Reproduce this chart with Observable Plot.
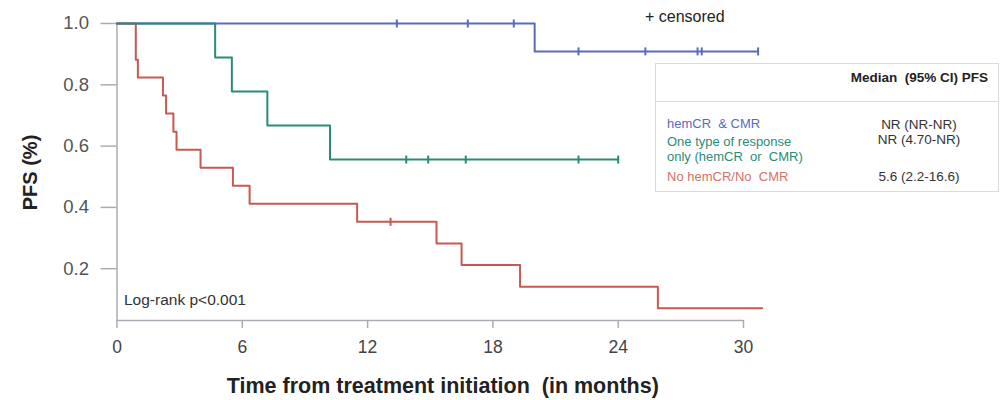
<!DOCTYPE html>
<html>
<head>
<meta charset="utf-8">
<script src="https://cdn.jsdelivr.net/npm/d3@7"></script>
<script src="https://cdn.jsdelivr.net/npm/@observablehq/plot@0.6"></script>
<style>
  body { margin: 0; background: #fff; font-family: "Liberation Sans", Arial, sans-serif; }
  #wrap { position: relative; width: 1003px; height: 400px; }
  #legend { position: absolute; left: 655px; top: 63px; width: 344px; height: 129px;
    border: 1px solid #dcdcdc; box-sizing: border-box; font-size: 13px; background: #fff; }
  #legend .hdr { position: absolute; left: 0; right: 0; top: 0; height: 37px; border-bottom: 1px solid #dcdcdc; }
  #legend .hdr span { position: absolute; right: 10px; top: 6px; font-weight: bold; color: #222; font-size: 13.5px; }
  #legend .lab { position: absolute; left: 11px; line-height: 15px; }
  #legend .val { position: absolute; left: 208px; width: 110px; text-align: center; color: #333; line-height: 15px; font-size: 13.5px; }
  #cens { position: absolute; left: 645px; top: 8px; font-size: 16px; color: #222; }
</style>
</head>
<body>
<div id="wrap">
  <div id="chart"></div>
  <div id="cens">+ censored</div>
  <div id="legend"></div>
</div>
<script>
// ---- data ----
const groups = ["hemCR & CMR", "One type of response only (hemCR or CMR)", "No hemCR/No CMR"];
const legendLabels = [["hemCR  & CMR"], ["One type of response", "only (hemCR  or  CMR)"], ["No hemCR/No  CMR"]];
const medians = ["NR (NR-NR)", "NR (4.70-NR)", "5.6 (2.2-16.6)"];
const colors = ["#5a6abd", "#2b8b78", "#c65a52"];
const labelColors = ["#5a6abd", "#2b8b78", "#d0726c"];

const blueT = [0, 20.0, 30.7];
const blueS = [1, 0.909, 0.909];
const blueCensT = [13.4, 16.8, 19.0, 22.1, 25.3, 27.8, 28.0, 30.7];
const blueCensS = [1, 1, 1, 0.909, 0.909, 0.909, 0.909, 0.909];

const tealT = [0, 4.7, 5.5, 7.2, 10.2, 24.0];
const tealS = [1, 0.889, 0.778, 0.667, 0.556, 0.556];
const tealCensT = [13.85, 14.9, 16.7, 22.1, 24.0];
const tealCensS = [0.556, 0.556, 0.556, 0.556, 0.556];

const redT = [0, 0.9, 1.0, 2.2, 2.35, 2.7, 2.85, 4.0, 5.55, 6.35, 11.5, 15.3, 16.5, 19.3, 25.9, 30.9];
const redS = [1, 0.882, 0.824, 0.765, 0.706, 0.647, 0.588, 0.529, 0.471, 0.412, 0.353, 0.282, 0.212, 0.141, 0.0706, 0.0706];
const redCensT = [13.1];
const redCensS = [0.353];

const xTicks = [0, 6, 12, 18, 24, 30];
const yTicks = [0.2, 0.4, 0.6, 0.8, 1.0];
const yMin = 0.031;

const toRows = (T, S, g) => T.map((t, i) => ({t, s: S[i], g}));
const blue = toRows(blueT, blueS, 0);
const teal = toRows(tealT, tealS, 1);
const red = toRows(redT, redS, 2);
const cens = [...toRows(blueCensT, blueCensS, 0), ...toRows(tealCensT, tealCensS, 1), ...toRows(redCensT, redCensS, 2)];

const vtick = { draw(ctx) { ctx.moveTo(0, -4); ctx.lineTo(0, 4); } };
const axisGray = "#a9adb3";

const chart = Plot.plot({
  width: 1003,
  height: 400,
  marginLeft: 116.5,
  marginRight: 260,
  marginTop: 23,
  marginBottom: 80,
  style: { fontFamily: "'Liberation Sans', Arial, sans-serif", background: "#fff", overflow: "visible" },
  x: { domain: [0, 30] },
  y: { domain: [yMin, 1] },
  marks: [
    Plot.ruleY([yMin], { x1: 0, x2: 30, stroke: axisGray, strokeWidth: 1.5 }),
    Plot.ruleX([0], { y1: yMin, y2: 1, stroke: axisGray, strokeWidth: 1.5 }),
    Plot.axisY({ ticks: yTicks, tickFormat: d3.format(".1f"), tickSize: 16, tickPadding: 12,
      stroke: axisGray, strokeWidth: 1.5, fill: "#555", fontSize: 18.5, label: null }),
    Plot.axisX({ ticks: xTicks, tickSize: 8, tickPadding: 12, stroke: axisGray, strokeWidth: 1.5,
      fill: "#444", fontSize: 17.5, label: null }),
    Plot.line(blue, { x: "t", y: "s", curve: "step-after", stroke: colors[0], strokeWidth: 2 }),
    Plot.line(red, { x: "t", y: "s", curve: "step-after", stroke: colors[2], strokeWidth: 2 }),
    Plot.line(teal, { x: "t", y: "s", curve: "step-after", stroke: colors[1], strokeWidth: 2 }),
    Plot.dot(cens, { x: "t", y: "s", symbol: vtick, r: 4, fill: "none", stroke: d => colors[d.g], strokeWidth: 2 }),
    Plot.text(["Log-rank p<0.001"], { x: 0, y: yMin, dx: 7, dy: -20, textAnchor: "start", fontSize: 15.5, fill: "#333" }),
    Plot.text(["Time from treatment initiation  (in months)"], { x: 15.6, y: yMin, dy: 66,
      fontSize: 21.5, fontWeight: "bold", fill: "#222" }),
    Plot.text(["PFS (%)"], { x: -4.14, y: 0.514, rotate: -90, fontSize: 20, fontWeight: "bold", fill: "#222" })
  ]
});
document.getElementById("chart").appendChild(chart);

// legend table
const lg = document.getElementById("legend");
lg.innerHTML = `<div class="hdr"><span>Median&nbsp; (95% CI) PFS</span></div>`;
const rowTops = [52, 70, 105];
const valTops = [53, 68, 105];
groups.forEach((g, i) => {
  const lab = document.createElement("div");
  lab.className = "lab";
  lab.style.top = rowTops[i] + "px";
  lab.style.color = labelColors[i];
  lab.innerHTML = legendLabels[i].map(s => s.replace(/  /g, " &nbsp;")).join("<br>");
  lg.appendChild(lab);
  const v = document.createElement("div");
  v.className = "val";
  v.style.top = valTops[i] + "px";
  v.textContent = medians[i];
  lg.appendChild(v);
});
</script>
</body>
</html>
